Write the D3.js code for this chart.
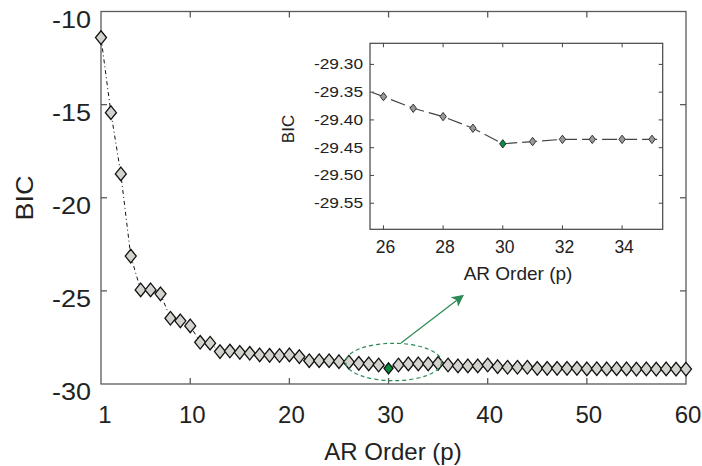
<!DOCTYPE html>
<html>
<head>
<meta charset="utf-8">
<script src="https://cdn.jsdelivr.net/npm/d3@7/dist/d3.min.js"></script>
<style>
  html, body { margin: 0; padding: 0; background: #fff; }
  svg { display: block; font-family: "Liberation Sans", Arial, sans-serif; }
</style>
</head>
<body>
<svg id="chart" width="702" height="466"></svg>
<script>
// AR model order selection: BIC for each order p
const orders = [1,2,3,4,5,6,7,8,9,10,11,12,13,14,15,16,17,18,19,20,
                21,22,23,24,25,26,27,28,29,30,31,32,33,34,35,36,37,38,39,40,
                41,42,43,44,45,46,47,48,49,50,51,52,53,54,55,56,57,58,59,60];
const bic = [-11.40,-15.43,-18.72,-23.13,-24.95,-24.95,-25.16,-26.47,-26.61,-26.88,
             -27.76,-27.81,-28.26,-28.23,-28.30,-28.35,-28.44,-28.46,-28.47,-28.44,
             -28.53,-28.75,-28.75,-28.75,-28.80,-28.83,-28.89,-28.92,-28.98,-29.16,
             -28.98,-28.92,-28.92,-28.92,-28.89,-28.98,-29.03,-29.03,-29.03,-28.98,
             -29.07,-29.10,-29.10,-29.10,-29.16,-29.16,-29.16,-29.16,-29.16,-29.19,
             -29.18,-29.19,-29.18,-29.19,-29.20,-29.19,-29.20,-29.19,-29.20,-29.20];
const bestOrder = 30;
const xTicks = [1,10,20,30,40,50,60];
const yTicks = [-10,-15,-20,-25,-30];

// zoomed view around the minimum
const zoomOrders = [25,26,27,28,29,30,31,32,33,34,35,36];
const zoomBic = [-29.338,-29.358,-29.379,-29.394,-29.415,-29.443,
                 -29.439,-29.435,-29.435,-29.435,-29.435,-29.435];
const zoomXTicks = [26,28,30,32,34];
const zoomYTicks = [-29.30,-29.35,-29.40,-29.45,-29.50,-29.55];

const svg = d3.select("#chart");
const green = "#2b8a55";

// ---------- main panel ----------
const M = {left: 101, right: 686, top: 11.5, bottom: 384};
const x = d3.scaleLinear().domain([1, 60]).range([M.left, M.right]);
const y = d3.scaleLinear().domain([-30, -10]).range([M.bottom, M.top]);

const axisColor = "#5a5a5a";
const main = svg.append("g");

// frame
main.append("rect")
  .attr("x", M.left).attr("y", M.top)
  .attr("width", M.right - M.left).attr("height", M.bottom - M.top)
  .attr("fill", "none").attr("stroke", axisColor).attr("stroke-width", 1.3);

// inward ticks, all four sides
const tl = 6;
const innerX = xTicks.filter(v => v !== 1 && v !== 60);
const innerY = yTicks.filter(v => v !== -10 && v !== -30);
main.append("g").selectAll("line").data(innerX).join("line")
  .attr("x1", d => x(d)).attr("x2", d => x(d))
  .attr("y1", M.bottom).attr("y2", M.bottom - tl)
  .attr("stroke", axisColor).attr("stroke-width", 1.3);
main.append("g").selectAll("line").data(innerX).join("line")
  .attr("x1", d => x(d)).attr("x2", d => x(d))
  .attr("y1", M.top).attr("y2", M.top + tl)
  .attr("stroke", axisColor).attr("stroke-width", 1.3);
main.append("g").selectAll("line").data(innerY).join("line")
  .attr("x1", M.left).attr("x2", M.left + tl)
  .attr("y1", d => y(d)).attr("y2", d => y(d))
  .attr("stroke", axisColor).attr("stroke-width", 1.3);
main.append("g").selectAll("line").data(innerY).join("line")
  .attr("x1", M.right).attr("x2", M.right - tl)
  .attr("y1", d => y(d)).attr("y2", d => y(d))
  .attr("stroke", axisColor).attr("stroke-width", 1.3);

// tick labels
main.append("g").selectAll("text").data(yTicks).join("text")
  .attr("x", 91).attr("y", d => y(d) + 8)
  .attr("text-anchor", "end").attr("dominant-baseline", "central")
  .attr("font-size", 23).attr("fill", "#222")
  .attr("textLength", 39).attr("lengthAdjust", "spacingAndGlyphs")
  .text(d => d);
main.append("g").selectAll("text").data(xTicks).join("text")
  .attr("x", d => x(d) + (d === 1 ? 4 : 2)).attr("y", 423)
  .attr("text-anchor", "middle")
  .attr("font-size", 24).attr("fill", "#222")
  .text(d => d);

// axis titles
main.append("text")
  .attr("x", 393).attr("y", 460)
  .attr("text-anchor", "middle")
  .attr("font-size", 24).attr("fill", "#222")
  .text("AR Order (p)");
main.append("text")
  .attr("transform", "translate(33,198) rotate(-90)")
  .attr("text-anchor", "middle")
  .attr("font-size", 23).attr("fill", "#222")
  .attr("textLength", 45).attr("lengthAdjust", "spacingAndGlyphs")
  .text("BIC");

// dash-dot trace
const pts = orders.map((o, i) => [o, bic[i]]);
main.append("path")
  .datum(pts)
  .attr("d", d3.line().x(d => x(d[0])).y(d => y(d[1])))
  .attr("fill", "none").attr("stroke", "#111").attr("stroke-width", 1)
  .attr("stroke-dasharray", "4,3,1,3");

// diamond markers
const diamond = (w, h) => `M0,${-h}L${w},0L0,${h}L${-w},0Z`;
main.append("g").selectAll("path").data(pts).join("path")
  .attr("transform", d => `translate(${x(d[0])},${y(d[1])})`)
  .attr("d", d => d[0] === bestOrder ? diamond(4.5, 5.5) : diamond(5.5, 6.8))
  .attr("fill", d => d[0] === bestOrder ? "#0b8a3c" : "#d4d2cc")
  .attr("stroke", "#111").attr("stroke-width", 1.3);

// highlight ellipse and arrow toward the zoomed view
main.append("ellipse")
  .attr("cx", x(bestOrder) + 5).attr("cy", 362)
  .attr("rx", 48).attr("ry", 18.7)
  .attr("fill", "none").attr("stroke", green).attr("stroke-width", 1.2)
  .attr("stroke-dasharray", "4,3");

svg.append("defs").append("marker")
  .attr("id", "head").attr("viewBox", "0 0 10 10")
  .attr("refX", 9).attr("refY", 5)
  .attr("markerWidth", 12).attr("markerHeight", 12)
  .attr("markerUnits", "userSpaceOnUse")
  .attr("orient", "auto")
  .append("path").attr("d", "M0,0L10,5L0,10L2.5,5Z").attr("fill", green);
main.append("line")
  .attr("x1", 401).attr("y1", 343)
  .attr("x2", 463).attr("y2", 295.5)
  .attr("stroke", green).attr("stroke-width", 1.2)
  .attr("marker-end", "url(#head)");

// ---------- inset ----------
const I = {left: 370, right: 662.7, top: 43.3, bottom: 229.3};
const xi = d3.scaleLinear().domain([25.55, 35.36]).range([I.left, I.right]);
const yi = d3.scaleLinear().domain([-29.597, -29.262]).range([I.bottom, I.top]);
const inset = svg.append("g");
const insetAxis = "#444";

inset.append("rect")
  .attr("x", I.left).attr("y", I.top)
  .attr("width", I.right - I.left).attr("height", I.bottom - I.top)
  .attr("fill", "#fff").attr("stroke", insetAxis).attr("stroke-width", 1.2);

svg.select("defs").append("clipPath").attr("id", "insetClip")
  .append("rect")
  .attr("x", I.left).attr("y", I.top)
  .attr("width", I.right - I.left).attr("height", I.bottom - I.top);

const itl = 4;
inset.append("g").selectAll("line").data(zoomXTicks).join("line")
  .attr("x1", d => xi(d)).attr("x2", d => xi(d))
  .attr("y1", I.bottom).attr("y2", I.bottom - itl)
  .attr("stroke", insetAxis);
inset.append("g").selectAll("line").data(zoomXTicks).join("line")
  .attr("x1", d => xi(d)).attr("x2", d => xi(d))
  .attr("y1", I.top).attr("y2", I.top + itl)
  .attr("stroke", insetAxis);
inset.append("g").selectAll("line").data(zoomYTicks).join("line")
  .attr("x1", I.left).attr("x2", I.left + itl)
  .attr("y1", d => yi(d)).attr("y2", d => yi(d))
  .attr("stroke", insetAxis);
inset.append("g").selectAll("line").data(zoomYTicks).join("line")
  .attr("x1", I.right).attr("x2", I.right - itl)
  .attr("y1", d => yi(d)).attr("y2", d => yi(d))
  .attr("stroke", insetAxis);

inset.append("g").selectAll("text").data(zoomYTicks).join("text")
  .attr("x", 363).attr("y", d => yi(d))
  .attr("text-anchor", "end").attr("dominant-baseline", "central")
  .attr("font-size", 14).attr("fill", "#222")
  .attr("textLength", 49).attr("lengthAdjust", "spacingAndGlyphs")
  .text(d => d.toFixed(2));
inset.append("g").selectAll("text").data(zoomXTicks).join("text")
  .attr("x", d => xi(d) + 2).attr("y", 253)
  .attr("text-anchor", "middle")
  .attr("font-size", 17.5).attr("fill", "#222")
  .text(d => d);
inset.append("text")
  .attr("x", 518).attr("y", 280)
  .attr("text-anchor", "middle")
  .attr("font-size", 19).attr("fill", "#222")
  .text("AR Order (p)");
inset.append("text")
  .attr("transform", "translate(294,129) rotate(-90)")
  .attr("text-anchor", "middle")
  .attr("font-size", 17).attr("fill", "#222")
  .text("BIC");

const zpts = zoomOrders.map((o, i) => [o, zoomBic[i]]);
const zplot = inset.append("g").attr("clip-path", "url(#insetClip)");
zplot.append("path")
  .datum(zpts)
  .attr("d", d3.line().x(d => xi(d[0])).y(d => yi(d[1])))
  .attr("fill", "none").attr("stroke", "#444").attr("stroke-width", 1.2)
  .attr("stroke-dasharray", "15,5");
zplot.append("g").selectAll("path").data(zpts).join("path")
  .attr("transform", d => `translate(${xi(d[0])},${yi(d[1])})`)
  .attr("d", diamond(3.2, 4.2))
  .attr("fill", d => d[0] === bestOrder ? "#0b8a45" : "#999")
  .attr("stroke", "#333").attr("stroke-width", 1);
</script>
</body>
</html>
